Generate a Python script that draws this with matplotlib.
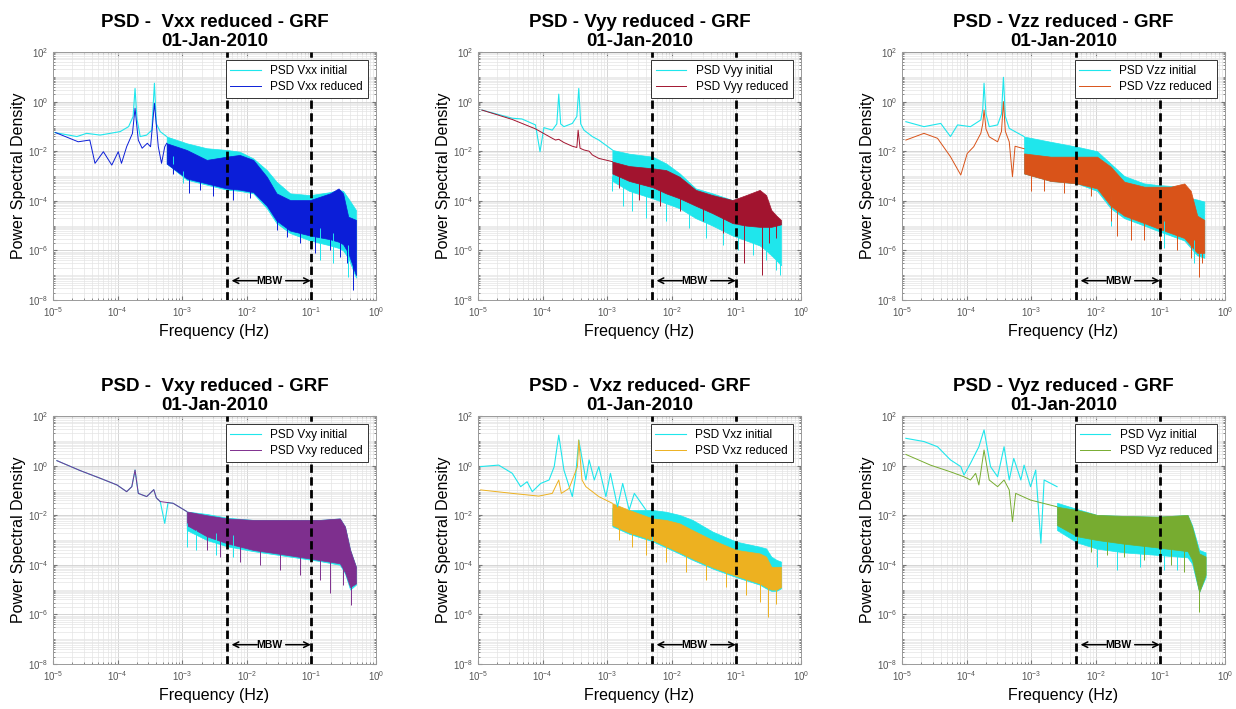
import matplotlib
matplotlib.use("Agg")

import matplotlib.pyplot as plt
import numpy as np
from matplotlib.ticker import LogLocator, NullFormatter

plt.rcParams["font.family"] = ["Liberation Sans", "DejaVu Sans"]
plt.rcParams["mathtext.default"] = "regular"

# ==========================================
# Values (log10 units)
#   *_f_*        : log10 frequency (Hz)
#   *_p_*        : log10 PSD, low-frequency line
#   *_band       : noisy part, upper / lower envelope
#   *_spk_*      : deepest downward spikes (freq, top, bottom)
# ==========================================

# --- Vxx ---
vxx_f_ini = [-4.97, -4.63, -4.48, -4.27, -3.96, -3.83, -3.76, -3.73, -3.70, -3.65,
             -3.55, -3.47, -3.43, -3.40, -3.34, -3.24]
vxx_p_ini = [-1.25, -1.41, -1.28, -1.35, -1.21, -1.01, -0.60, 0.53, -0.70, -1.41,
             -1.35, -1.15, 0.74, -0.90, -1.21, -1.41]
vxx_f_red = [-4.96, -4.61, -4.43, -4.35, -4.22, -4.09, -3.99, -3.94, -3.86, -3.77,
             -3.73, -3.68, -3.62, -3.54, -3.49, -3.43, -3.37, -3.32, -3.27, -3.24]
vxx_p_red = [-1.25, -1.62, -1.55, -2.49, -2.02, -2.56, -2.02, -2.49, -1.82, -1.28,
             -0.27, -1.55, -1.88, -1.68, -1.82, -0.07, -1.82, -2.49, -1.82, -1.68]
vxx_f_band = [-3.24, -2.93, -2.62, -2.31, -2.11, -1.90, -1.69, -1.54, -1.33, -1.02,
              -0.71, -0.58, -0.51, -0.43, -0.31]
vxx_ini_hi = [-1.41, -1.68, -1.88, -1.95, -2.02, -2.29, -2.76, -3.23, -3.70, -3.77,
              -3.65, -3.56, -3.60, -3.90, -4.37]
vxx_ini_lo = [-2.50, -3.15, -3.35, -3.55, -3.60, -3.70, -4.30, -4.90, -5.30, -5.60,
              -5.80, -5.90, -6.00, -6.30, -7.10]
vxx_red_hi = [-1.68, -1.95, -2.35, -2.22, -2.15, -2.35, -3.03, -3.70, -3.97, -3.97,
              -3.70, -3.50, -3.70, -4.64, -4.77]
vxx_red_lo = [-2.50, -3.10, -3.30, -3.50, -3.55, -3.65, -4.20, -4.80, -5.20, -5.40,
              -5.55, -5.65, -5.75, -6.10, -7.00]
vxx_spk_f_red = [-3.15, -2.90, -2.72, -2.52, -2.21, -1.95, -1.54, -1.38, -1.18, -0.94,
                 -0.71, -0.56, -0.45, -0.35]
vxx_spk_t_red = [-2.50, -2.80, -2.90, -3.00, -3.10, -3.20, -4.40, -4.80, -4.90, -5.00,
                 -5.20, -5.30, -5.50, -6.30]
vxx_spk_b_red = [-2.90, -3.70, -3.55, -3.80, -3.97, -3.90, -5.18, -5.45, -5.71, -6.12,
                 -6.00, -6.25, -6.52, -7.60]
vxx_spk_f_ini = [-3.14, -2.98, -0.87, -0.66, -0.43]
vxx_spk_t_ini = [-2.20, -2.80, -5.10, -5.30, -5.80]
vxx_spk_b_ini = [-2.62, -3.30, -6.39, -6.52, -7.06]

# --- Vyy ---
vyy_f_ini = [-4.94, -4.47, -4.32, -4.11, -4.04, -3.98, -3.85, -3.78, -3.75, -3.72,
             -3.67, -3.54, -3.47, -3.44, -3.41, -3.36, -3.23, -3.13, -2.92]
vyy_p_ini = [-0.34, -0.67, -0.70, -0.94, -2.02, -1.05, -1.15, -0.90, 0.30, -0.90,
             -1.01, -0.88, -0.60, 0.53, -0.90, -1.15, -1.41, -1.55, -1.95]
vyy_f_red = [-4.94, -4.47, -4.11, -3.85, -3.80, -3.75, -3.67, -3.54, -3.47, -3.45,
             -3.42, -3.36, -3.28, -3.23, -3.13, -2.92]
vyy_p_red = [-0.34, -0.72, -1.10, -1.48, -1.55, -1.52, -1.65, -1.80, -1.85, -1.15,
             -1.88, -1.95, -2.00, -2.15, -2.29, -2.42]
vyy_f_band = [-2.92, -2.66, -2.30, -2.09, -1.88, -1.63, -1.37, -1.06, -0.85, -0.64,
              -0.54, -0.46, -0.38, -0.31]
vyy_ini_hi = [-1.95, -2.10, -2.22, -2.49, -2.89, -3.50, -3.70, -3.97, -3.85, -3.80,
              -4.24, -4.71, -4.80, -4.84]
vyy_ini_lo = [-3.20, -3.60, -3.90, -4.10, -4.30, -4.70, -5.00, -5.40, -5.60, -5.80,
              -6.00, -6.20, -6.40, -6.60]
vyy_red_hi = [-2.42, -2.60, -2.69, -2.76, -3.03, -3.56, -3.77, -3.97, -3.77, -3.56,
              -3.77, -4.37, -4.60, -4.77]
vyy_red_lo = [-2.90, -3.20, -3.45, -3.70, -3.90, -4.20, -4.50, -4.90, -5.00, -5.05,
              -5.05, -5.05, -5.00, -4.95]
vyy_spk_f_red = [-2.82, -2.51, -2.19, -1.88, -1.52, -1.21, -0.88, -0.60, -0.49, -0.38]
vyy_spk_t_red = [-2.90, -3.10, -3.30, -3.70, -4.10, -4.40, -4.70, -4.80, -4.90, -4.90]
vyy_spk_b_red = [-3.50, -3.97, -4.20, -4.40, -4.80, -5.30, -6.52, -7.00, -5.70, -5.50]
vyy_spk_f_ini = [-2.92, -2.76, -2.61, -2.40, -2.09, -1.73, -1.47, -1.21, -0.98, -0.75,
                 -0.54, -0.38, -0.33]
vyy_spk_t_ini = [-3.00, -3.30, -3.50, -3.70, -3.90, -4.30, -4.60, -4.90, -5.10, -5.30,
                 -5.60, -6.00, -6.10]
vyy_spk_b_ini = [-3.60, -4.20, -4.40, -4.70, -4.80, -5.10, -5.50, -5.80, -6.00, -6.20,
                 -6.40, -6.80, -7.00]

# --- Vzz ---
vzz_f_ini = [-4.94, -4.66, -4.40, -4.25, -4.14, -3.94, -3.78, -3.75, -3.73, -3.70,
             -3.65, -3.52, -3.46, -3.43, -3.40, -3.34, -3.11]
vzz_p_ini = [-0.81, -1.01, -0.88, -1.41, -0.94, -1.01, -0.74, -0.30, 0.74, -0.50,
             -1.01, -0.94, -0.50, 0.98, -0.60, -1.08, -1.41]
vzz_f_red = [-4.94, -4.66, -4.45, -4.25, -4.09, -3.99, -3.89, -3.78, -3.75, -3.73,
             -3.70, -3.65, -3.52, -3.46, -3.43, -3.40, -3.34, -3.29, -3.25, -3.11]
vzz_p_red = [-1.55, -1.28, -1.48, -2.22, -2.96, -2.09, -1.82, -1.28, -0.90, -0.34,
             -1.10, -1.42, -1.62, -1.20, 0.00, -1.20, -1.62, -3.03, -1.80, -1.90]
vzz_f_band = [-3.11, -2.70, -2.29, -1.98, -1.77, -1.56, -1.25, -1.05, -0.84, -0.63,
              -0.53, -0.43, -0.32]
vzz_ini_hi = [-1.41, -1.62, -1.82, -2.00, -2.50, -3.00, -3.30, -3.36, -3.40, -3.43,
              -3.90, -3.95, -4.03]
vzz_ini_lo = [-2.90, -3.20, -3.30, -3.60, -4.30, -4.70, -5.00, -5.20, -5.40, -5.60,
              -5.90, -6.20, -6.30]
vzz_red_hi = [-2.09, -2.22, -2.22, -2.22, -2.62, -3.23, -3.43, -3.43, -3.43, -3.30,
              -3.60, -4.60, -4.77]
vzz_red_lo = [-2.90, -3.20, -3.30, -3.50, -4.20, -4.60, -4.90, -5.10, -5.30, -5.50,
              -5.80, -6.10, -6.10]
vzz_spk_f_red = [-3.01, -2.80, -2.49, -2.08, -1.77, -1.67, -1.46, -1.25, -1.00, -0.74,
                 -0.53, -0.40, -0.35]
vzz_spk_t_red = [-2.70, -2.80, -2.90, -3.00, -3.70, -4.00, -4.30, -4.50, -4.70, -5.00,
                 -5.40, -5.80, -5.90]
vzz_spk_b_red = [-3.60, -3.60, -3.70, -3.80, -4.80, -5.40, -5.60, -5.60, -5.80, -6.00,
                 -6.30, -7.06, -6.50]
vzz_spk_f_ini = [-1.77, -0.94, -0.48]
vzz_spk_t_ini = [-3.80, -4.80, -5.60]
vzz_spk_b_ini = [-5.00, -5.90, -6.50]

# --- Vxy ---
vxy_f_ini = [-4.94, -4.58, -4.27, -4.01, -3.86, -3.78, -3.73, -3.68, -3.55, -3.44,
             -3.40, -3.34, -3.27, -3.22, -3.14, -2.93]
vxy_p_ini = [0.20, -0.20, -0.51, -0.78, -1.05, -0.85, -0.18, -1.12, -1.25, -0.97,
             -1.30, -1.45, -2.33, -1.50, -1.52, -1.85]
vxy_f_red = [-4.94, -4.58, -4.27, -4.01, -3.86, -3.78, -3.73, -3.68, -3.55, -3.44,
             -3.40, -3.34, -3.14, -2.93]
vxy_p_red = [0.20, -0.20, -0.51, -0.78, -1.05, -0.85, -0.18, -1.12, -1.25, -0.97,
             -1.30, -1.45, -1.52, -1.85]
vxy_f_band = [-2.93, -2.62, -2.31, -1.90, -1.38, -0.87, -0.56, -0.48, -0.40, -0.31]
vxy_ini_hi = [-1.85, -1.95, -2.10, -2.19, -2.19, -2.19, -2.13, -2.46, -3.40, -4.08]
vxy_ini_lo = [-2.60, -3.00, -3.25, -3.45, -3.65, -3.85, -4.00, -4.35, -5.00, -4.80]
vxy_red_hi = [-1.85, -2.00, -2.13, -2.19, -2.19, -2.19, -2.13, -2.46, -3.40, -4.08]
vxy_red_lo = [-2.40, -2.85, -3.13, -3.40, -3.60, -3.81, -3.94, -4.30, -4.90, -4.75]
vxy_spk_f_red = [-2.62, -2.41, -2.11, -1.80, -1.49, -1.18, -0.87, -0.71, -0.51, -0.38]
vxy_spk_t_red = [-2.50, -2.70, -2.80, -2.90, -3.00, -3.10, -3.20, -3.30, -3.60, -4.30]
vxy_spk_b_red = [-3.40, -3.70, -3.90, -4.00, -4.20, -4.40, -4.60, -5.15, -4.80, -5.62]
vxy_spk_f_ini = [-2.93, -2.78, -2.47, -2.21]
vxy_spk_t_ini = [-2.30, -2.60, -2.70, -2.80]
vxy_spk_b_ini = [-3.30, -3.40, -3.60, -3.70]

# --- Vxz ---
vxz_f_ini = [-4.96, -4.68, -4.47, -4.34, -4.24, -4.16, -4.03, -3.90, -3.82, -3.75,
             -3.67, -3.54, -3.49, -3.44, -3.33, -3.28, -3.20, -3.13, -3.02, -2.95,
             -2.84, -2.76, -2.66, -2.58, -2.40]
vxz_p_ini = [-0.04, 0.02, -0.31, -0.85, -0.65, -1.05, -0.72, -0.58, -0.04, 1.23,
             -0.18, -1.25, -0.45, 1.03, -0.58, 0.23, -0.58, -0.04, -1.25, -0.31,
             -1.66, -0.72, -1.79, -1.12, -1.79]
vxz_f_red = [-4.96, -4.47, -4.06, -3.85, -3.75, -3.71, -3.59, -3.46, -3.44, -3.39,
             -3.33, -3.13, -2.92]
vxz_p_red = [-0.98, -1.12, -1.23, -1.12, -0.58, -1.12, -0.92, -0.04, 1.03, -0.58,
             -0.85, -1.25, -1.52]
vxz_f_band = [-2.92, -2.66, -2.30, -2.09, -1.88, -1.68, -1.37, -1.00, -0.64, -0.54,
              -0.46, -0.38, -0.31]
vxz_ini_hi = [-1.70, -1.79, -1.79, -1.86, -1.99, -2.19, -2.66, -3.07, -3.27, -3.34,
              -3.67, -3.80, -3.87]
vxz_ini_lo = [-2.45, -2.75, -3.05, -3.30, -3.55, -3.80, -4.15, -4.50, -4.80, -4.95,
              -5.05, -5.05, -4.95]
vxz_red_hi = [-1.52, -1.79, -2.13, -2.19, -2.33, -2.60, -3.00, -3.40, -3.54, -3.67,
              -4.08, -4.08, -4.08]
vxz_red_lo = [-2.40, -2.70, -3.00, -3.25, -3.50, -3.75, -4.10, -4.45, -4.75, -4.90,
              -5.00, -5.00, -4.90]
vxz_spk_f_red = [-2.82, -2.61, -2.40, -2.09, -1.78, -1.47, -1.16, -0.85, -0.64, -0.51,
                 -0.38]
vxz_spk_t_red = [-2.30, -2.40, -2.60, -2.90, -3.20, -3.60, -3.90, -4.10, -4.30, -4.60,
                 -4.70]
vxz_spk_b_red = [-3.00, -3.30, -3.60, -3.90, -4.30, -4.60, -4.90, -5.20, -5.50, -6.09,
                 -5.60]
vxz_spk_f_ini = [-2.30]
vxz_spk_t_ini = [-2.60]
vxz_spk_b_ini = [-3.30]

# --- Vyz ---
vyz_f_ini = [-4.94, -4.66, -4.45, -4.25, -4.09, -4.04, -3.94, -3.81, -3.73, -3.63,
             -3.52, -3.42, -3.34, -3.27, -3.16, -3.11, -3.01, -2.93, -2.85, -2.80,
             -2.60]
vyz_p_ini = [1.10, 0.97, 0.76, 0.23, -0.04, -0.38, 0.09, 0.76, 1.44, -0.04,
             -0.45, 0.76, -0.58, 0.29, -0.58, 0.02, -0.85, -0.18, -3.13, -0.58,
             -0.85]
vyz_f_red = [-4.94, -4.56, -4.25, -4.04, -3.94, -3.86, -3.81, -3.73, -3.65, -3.52,
             -3.42, -3.34, -3.29, -3.24, -3.01, -2.60]
vyz_p_red = [0.45, 0.02, -0.25, -0.45, -0.58, -0.31, -0.78, 0.63, -0.58, -0.85,
             -0.58, -0.98, -2.26, -1.12, -1.39, -1.66]
vyz_f_band = [-2.60, -2.29, -1.98, -1.56, -1.05, -0.58, -0.51, -0.40, -0.30]
vyz_ini_hi = [-1.50, -1.75, -1.99, -2.03, -2.06, -1.99, -2.40, -3.40, -3.50]
vyz_ini_lo = [-2.60, -3.10, -3.35, -3.50, -3.60, -3.70, -3.95, -5.10, -4.50]
vyz_red_hi = [-1.66, -1.79, -1.99, -2.03, -2.06, -1.99, -2.46, -3.54, -3.67]
vyz_red_lo = [-2.40, -2.85, -3.00, -3.15, -3.30, -3.45, -3.80, -5.10, -4.40]
vyz_spk_f_red = [-2.29, -2.08, -1.82, -1.56, -1.25, -1.00, -0.84, -0.63, -0.40]
vyz_spk_t_red = [-2.50, -2.70, -2.80, -2.85, -2.95, -3.05, -3.10, -3.15, -4.50]
vyz_spk_b_red = [-3.30, -3.50, -3.60, -3.70, -3.80, -3.90, -4.00, -4.30, -5.90]
vyz_spk_f_ini = [-1.98, -1.67, -1.31, -0.94, -0.74]
vyz_spk_t_ini = [-3.20, -3.40, -3.50, -3.50, -3.50]
vyz_spk_b_ini = [-4.08, -4.21, -4.10, -4.21, -4.20]

# Measurement bandwidth limits (Hz)
MBW_LOW = 5e-3
MBW_HIGH = 1e-1

# ==========================================
# Panel table built from the arrays above
# ==========================================

CYAN = "#1FE6EC"

panels = [
    ("PSD -  Vxx reduced - GRF", "Vxx", "#0B1ED8",
     vxx_f_ini, vxx_p_ini, vxx_f_red, vxx_p_red,
     vxx_f_band, vxx_ini_hi, vxx_ini_lo, vxx_red_hi, vxx_red_lo,
     (vxx_spk_f_ini, vxx_spk_t_ini, vxx_spk_b_ini),
     (vxx_spk_f_red, vxx_spk_t_red, vxx_spk_b_red)),
    ("PSD - Vyy reduced - GRF", "Vyy", "#A2142F",
     vyy_f_ini, vyy_p_ini, vyy_f_red, vyy_p_red,
     vyy_f_band, vyy_ini_hi, vyy_ini_lo, vyy_red_hi, vyy_red_lo,
     (vyy_spk_f_ini, vyy_spk_t_ini, vyy_spk_b_ini),
     (vyy_spk_f_red, vyy_spk_t_red, vyy_spk_b_red)),
    ("PSD - Vzz reduced - GRF", "Vzz", "#D95319",
     vzz_f_ini, vzz_p_ini, vzz_f_red, vzz_p_red,
     vzz_f_band, vzz_ini_hi, vzz_ini_lo, vzz_red_hi, vzz_red_lo,
     (vzz_spk_f_ini, vzz_spk_t_ini, vzz_spk_b_ini),
     (vzz_spk_f_red, vzz_spk_t_red, vzz_spk_b_red)),
    ("PSD -  Vxy reduced - GRF", "Vxy", "#7E2F8E",
     vxy_f_ini, vxy_p_ini, vxy_f_red, vxy_p_red,
     vxy_f_band, vxy_ini_hi, vxy_ini_lo, vxy_red_hi, vxy_red_lo,
     (vxy_spk_f_ini, vxy_spk_t_ini, vxy_spk_b_ini),
     (vxy_spk_f_red, vxy_spk_t_red, vxy_spk_b_red)),
    ("PSD -  Vxz reduced- GRF", "Vxz", "#EDB120",
     vxz_f_ini, vxz_p_ini, vxz_f_red, vxz_p_red,
     vxz_f_band, vxz_ini_hi, vxz_ini_lo, vxz_red_hi, vxz_red_lo,
     (vxz_spk_f_ini, vxz_spk_t_ini, vxz_spk_b_ini),
     (vxz_spk_f_red, vxz_spk_t_red, vxz_spk_b_red)),
    ("PSD - Vyz reduced - GRF", "Vyz", "#77AC30",
     vyz_f_ini, vyz_p_ini, vyz_f_red, vyz_p_red,
     vyz_f_band, vyz_ini_hi, vyz_ini_lo, vyz_red_hi, vyz_red_lo,
     (vyz_spk_f_ini, vyz_spk_t_ini, vyz_spk_b_ini),
     (vyz_spk_f_red, vyz_spk_t_red, vyz_spk_b_red)),
]

# axes boxes in pixels (left, top) of the 1236x709 canvas
W, H = 1236, 709
lefts = [53, 478, 902]
tops = [52, 416]
AX_W, AX_H = 323, 248


def p10(v):
    return 10.0 ** np.asarray(v)


def draw_psd(ax, f_line, p_line, f_band, hi, lo, spikes, color, lw):
    ln, = ax.plot(p10(f_line), p10(p_line), color=color, lw=lw)
    sf, st, sb = spikes
    ax.vlines(p10(sf), p10(sb), p10(st), color=color, lw=0.7)
    ax.fill_between(p10(f_band), p10(lo), p10(hi),
                    color=color, lw=0.5, edgecolor=color)
    return ln


fig = plt.figure(figsize=(W / 100, H / 100), dpi=100)

for i, (title, name, color, f_ini, p_ini, f_red, p_red,
        f_band, ini_hi, ini_lo, red_hi, red_lo, spk_ini, spk_red) in enumerate(panels):

    row, col = divmod(i, 3)
    ax = fig.add_axes([lefts[col] / W, 1 - (tops[row] + AX_H) / H,
                       AX_W / W, AX_H / H])

    ln_ini = draw_psd(ax, f_ini, p_ini, f_band, ini_hi, ini_lo, spk_ini, CYAN, 0.8)
    ln_red = draw_psd(ax, f_red, p_red, f_band, red_hi, red_lo, spk_red, color, 0.7)

    # MBW limits
    for fx in (MBW_LOW, MBW_HIGH):
        ax.axvline(fx, color="black", lw=2, linestyle=(0, (3, 1.6)), zorder=4)

    y_mbw = 6e-8
    ax.text(np.sqrt(MBW_LOW * MBW_HIGH), y_mbw, "MBW", fontsize=7.5,
            fontweight="bold", ha="center", va="center", zorder=5)
    ax.annotate("", xy=(5.8e-3, y_mbw), xytext=(1.45e-2, y_mbw),
                arrowprops=dict(arrowstyle="->", lw=1.1, color="black",
                                mutation_scale=10, shrinkA=0, shrinkB=0))
    ax.annotate("", xy=(0.098, y_mbw), xytext=(0.040, y_mbw),
                arrowprops=dict(arrowstyle="->", lw=1.1, color="black",
                                mutation_scale=10, shrinkA=0, shrinkB=0))

    # axes styling (MATLAB-like)
    ax.set_xscale("log")
    ax.set_yscale("log")
    ax.set_xlim(1e-5, 1)
    ax.set_ylim(1e-8, 1e2)
    ax.set_xticks([1e-5, 1e-4, 1e-3, 1e-2, 1e-1, 1])
    ax.set_yticks([1e-8, 1e-6, 1e-4, 1e-2, 1, 1e2])
    ax.xaxis.set_minor_locator(LogLocator(base=10, subs=np.arange(2, 10), numticks=30))
    ax.yaxis.set_minor_locator(LogLocator(base=10, subs=np.arange(1, 10), numticks=30))
    ax.xaxis.set_minor_formatter(NullFormatter())
    ax.yaxis.set_minor_formatter(NullFormatter())
    ax.grid(which="major", color="#cfcfcf", lw=0.6)
    ax.grid(which="minor", color="#e4e4e4", lw=0.5)
    ax.set_axisbelow(True)
    ax.tick_params(which="both", direction="in", top=True, right=True,
                   labelsize=7, color="#777777", labelcolor="#555555")
    ax.tick_params(which="major", length=3)
    ax.tick_params(which="minor", length=1.5)
    for sp in ax.spines.values():
        sp.set_color("#9a9a9a")
        sp.set_linewidth(0.7)

    ax.set_title(title + "\n01-Jan-2010", fontsize=13.5, fontweight="bold",
                 pad=4, linespacing=1.22)
    ax.set_xlabel("Frequency (Hz)", fontsize=11.5, labelpad=4)
    ax.set_ylabel("Power Spectral Density", fontsize=11.5, labelpad=1)

    leg = ax.legend([ln_ini, ln_red],
                    [f"PSD {name} initial", f"PSD {name} reduced"],
                    loc="upper right", fontsize=8.5, fancybox=False,
                    framealpha=1, edgecolor="#333333", handlelength=2.6,
                    borderpad=0.4, labelspacing=0.35, borderaxespad=0.7)
    leg.get_frame().set_linewidth(0.7)
    leg.set_zorder(10)

fig.savefig("out.png", dpi=100)
